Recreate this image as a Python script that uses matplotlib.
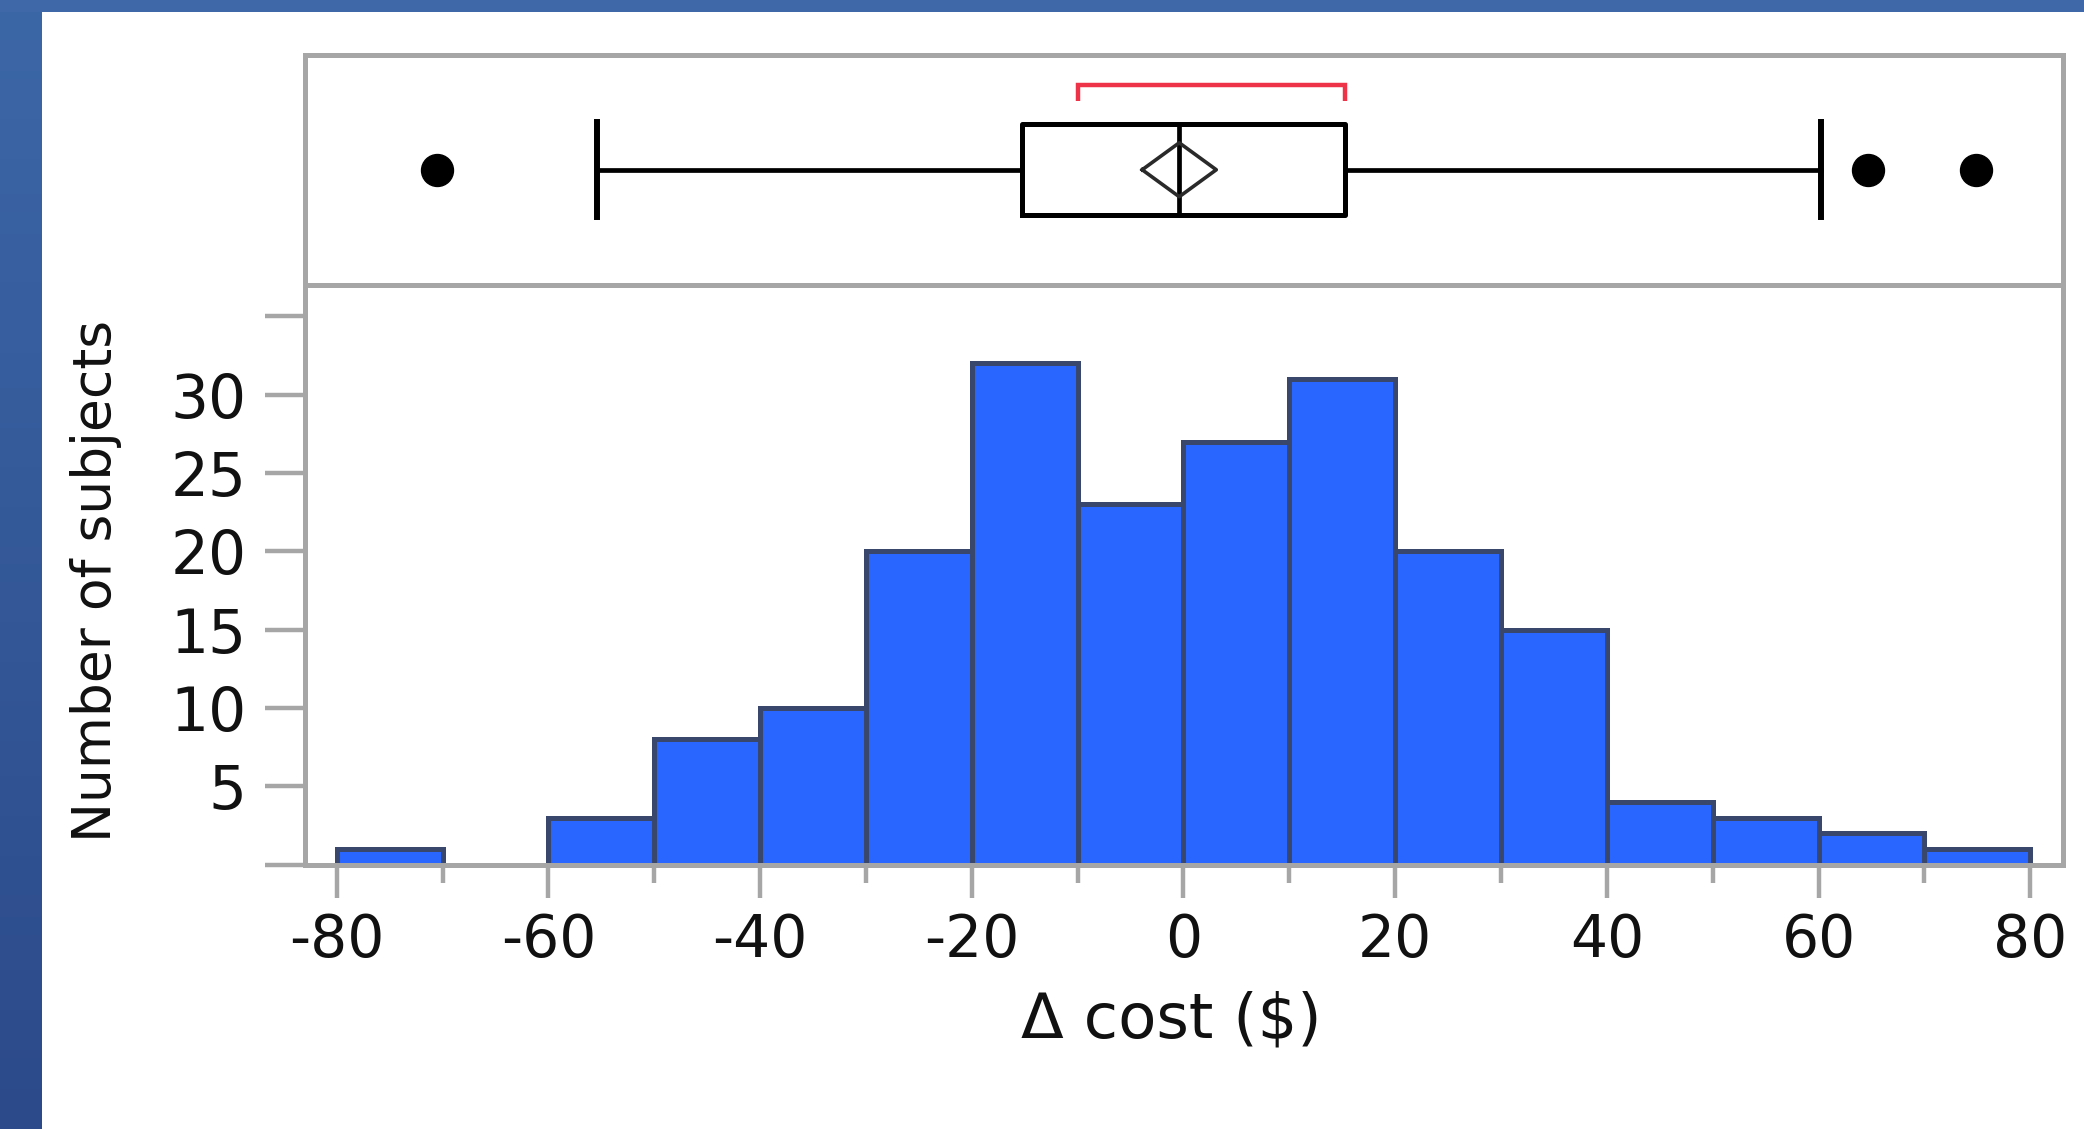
import numpy as np
import matplotlib
matplotlib.use('Agg')
import matplotlib.pyplot as plt
from matplotlib.patches import Rectangle
from matplotlib.colors import LinearSegmentedColormap
from matplotlib.ticker import MultipleLocator

# ---------------- data ----------------
bin_edges = [-80, -70, -60, -50, -40, -30, -20, -10, 0, 10, 20, 30, 40, 50, 60, 70, 80]
counts = [1, 0, 3, 8, 10, 20, 32, 23, 27, 31, 20, 15, 4, 3, 2, 1]

x_ticks = [-80, -60, -40, -20, 0, 20, 40, 60, 80]
x_tick_labels = ['-80', '-60', '-40', '-20', '0', '20', '40', '60', '80']
y_ticks = [0, 5, 10, 15, 20, 25, 30, 35]
y_tick_labels = ['', '5', '10', '15', '20', '25', '30', '']

box_q1 = -15.3
box_median = -0.4
box_q3 = 15.3
whisker_low = -55.4
whisker_high = 60.2
outliers = [-70.5, 64.7, 74.9]
mean_value = -0.4
mean_ci_half = 3.5
shortest_half = [-10.0, 15.3]

x_label = 'Δ cost ($)'
y_label = 'Number of subjects'

# ---------------- style ----------------
W, H = 2084, 1129
DPI = 100
GRAY = '#A6A6A6'
BAR = '#2966FF'
BAR_EDGE = '#38476B'
TXT = '#111111'
plt.rcParams['font.family'] = ['DejaVu Sans']

fig = plt.figure(figsize=(W / DPI, H / DPI), dpi=DPI)
fig.patch.set_facecolor('white')


def fx(px):
    return px / W


def fy(py):
    return 1 - py / H


# background decoration (slide frame)
bg = fig.add_axes([0, 0, 1, 1], zorder=-10)
grad = np.linspace(0, 1, 256).reshape(-1, 1)
cmap = LinearSegmentedColormap.from_list('strip', ['#3C67A7', '#2C4A8A'])
bg.imshow(grad, cmap=cmap, extent=[0, 42, H, 0], aspect='auto')
bg.add_patch(Rectangle((0, 0), W, 12, color='#3E68A8', lw=0))
bg.set_xlim(0, W)
bg.set_ylim(H, 0)
bg.axis('off')

L, R = 305, 2063
ax = fig.add_axes([fx(L), fy(864.5), fx(R) - fx(L), fy(285) - fy(864.5)])
axb = fig.add_axes([fx(L), fy(285), fx(R) - fx(L), fy(54.5) - fy(285)], sharex=ax)

# ---------------- histogram ----------------
lefts = bin_edges[:-1]
widths = np.diff(bin_edges)
ax.bar(lefts, counts, width=widths, align='edge', color=BAR,
       edgecolor=BAR_EDGE, linewidth=3.6, zorder=2)
ax.set_xlim(-83.0, 83.1)
ax.set_ylim(0, 37.0)

for a in (ax, axb):
    for s in a.spines.values():
        s.set_color(GRAY)
        s.set_linewidth(3.6)
        s.set_zorder(3)

ax.set_xticks(x_ticks, x_tick_labels)
ax.xaxis.set_minor_locator(MultipleLocator(10))
ax.tick_params(axis='x', which='major', length=23.4, width=3.2, color=GRAY,
               pad=11, labelsize=42, labelcolor=TXT)
ax.tick_params(axis='x', which='minor', length=12.6, width=3.2, color=GRAY)
ax.set_yticks(y_ticks, y_tick_labels)
ax.tick_params(axis='y', which='major', length=29, width=3.2, color=GRAY,
               pad=13, labelsize=43, labelcolor=TXT)

ax.set_xlabel(x_label, fontsize=45, color=TXT)
ax.xaxis.set_label_coords(0.4925, -0.2166)
ax.set_ylabel(y_label, fontsize=38.5, color=TXT)
ax.yaxis.set_label_coords(-0.104, 0.49)

# ---------------- box plot ----------------
stats = [dict(med=box_median, q1=box_q1, q3=box_q3,
              whislo=whisker_low, whishi=whisker_high, fliers=outliers)]
bkw = dict(positions=[0.5], widths=[0.395], capwidths=[0.41], showfliers=True,
           boxprops=dict(color='black', linewidth=3.6),
           medianprops=dict(color='black', linewidth=3.4),
           whiskerprops=dict(color='black', linewidth=3.4),
           capprops=dict(color='black', linewidth=4.3),
           flierprops=dict(marker='o', markerfacecolor='black',
                           markeredgecolor='black', markersize=23))
try:
    axb.bxp(stats, orientation='horizontal', **bkw)
except TypeError:
    axb.bxp(stats, vert=False, **bkw)

axb.plot([mean_value - mean_ci_half, mean_value, mean_value + mean_ci_half,
          mean_value, mean_value - mean_ci_half],
         [0.5, 0.617, 0.5, 0.383, 0.5], color='#2a2a2a', lw=2.6, zorder=4)
lo, hi = shortest_half
axb.plot([lo, lo, hi, hi], [0.797, 0.868, 0.868, 0.797], color='#EE3348',
         lw=3.2, solid_capstyle='butt', solid_joinstyle='miter')

axb.set_ylim(0, 1)
axb.set_xlim(-83.0, 83.1)
axb.tick_params(left=False, bottom=False, labelleft=False, labelbottom=False,
                which='both')

fig.savefig('out.png', dpi=DPI, facecolor='white')
